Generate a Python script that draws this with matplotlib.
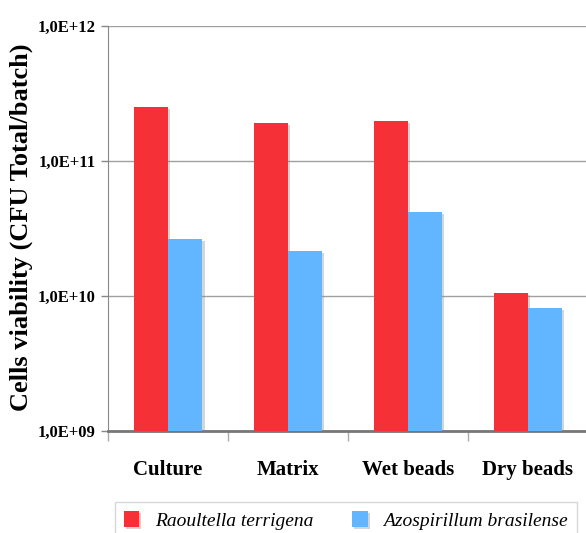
import matplotlib
matplotlib.use('Agg')
import matplotlib.pyplot as plt
import matplotlib.patheffects as pe
import numpy as np

#=====================================================

categories = ['Culture', 'Matrix', 'Wet beads', 'Dry beads']
raoultella = [2.5e11, 1.9e11, 1.97e11, 1.06e10]
azospirillum = [2.66e10, 2.14e10, 4.2e10, 8.2e9]
series_names = ['Raoultella terrigena', 'Azospirillum brasilense']
ytick_values = [1e9, 1e10, 1e11, 1e12]
ytick_labels = ['1,0E+09', '1,0E+10', '1,0E+11', '1,0E+12']

#=====================================================

def main():

    plt.rcParams['font.family'] = ['Liberation Serif', 'DejaVu Serif']

    fig = plt.figure(figsize=(5.86, 5.33), dpi=100)
    ax = fig.add_axes([0.1843, 0.1914, 0.819, 0.7598])

    x = np.arange(len(categories))
    width = 0.287
    shadow = [pe.SimplePatchShadow(offset=(1.5, -1.5), shadow_rgbFace='#888888', alpha=0.35), pe.Normal()]

    ax.set_yscale('log')
    bars1 = ax.bar(x - width / 2, raoultella, width, color='#F53036', label=series_names[0], zorder=3)
    bars2 = ax.bar(x + width / 2, azospirillum, width, color='#62B6FF', label=series_names[1], zorder=3)
    for b in list(bars1) + list(bars2):
        b.set_path_effects(shadow)

    ax.set_ylim(1e9, 1e12)
    ax.set_xlim(-0.5, 3.5)

    ax.set_yticks(ytick_values)
    ax.set_yticklabels(ytick_labels, fontsize=12, fontweight='bold')
    ax.yaxis.set_minor_locator(matplotlib.ticker.NullLocator())
    ax.tick_params(axis='y', length=5, width=1, color='#888888', pad=4)
    ax.yaxis.grid(True, color='#a0a0a0', linewidth=1, zorder=0)
    ax.set_axisbelow(True)

    ax.set_xticks(x)
    ax.set_xticklabels(categories, fontsize=15, fontweight='bold')
    ax.set_xticks(np.arange(-0.5, 3.6, 1.0), minor=True)
    ax.tick_params(axis='x', which='major', length=0, pad=21)
    ax.tick_params(axis='x', which='minor', length=7, width=1, color='#aaaaaa')

    for side in ['top', 'right']:
        ax.spines[side].set_visible(False)
    ax.spines['left'].set_color('#888888')
    ax.spines['bottom'].set_color('#777777')
    ax.spines['bottom'].set_linewidth(2)

    fig.text(0.037, 0.574, 'Cells viability (CFU Total/batch)', rotation=90,
             fontsize=19, fontweight='bold', ha='center', va='center')

    fig.legend(handles=[bars1, bars2], loc='upper center', bbox_to_anchor=(0.59, 0.058),
               ncol=2, prop={'style': 'italic', 'size': 14},
               frameon=True, fancybox=False, edgecolor='#cccccc',
               handlelength=0.8, handleheight=0.9, columnspacing=2.0,
               borderpad=0.45, borderaxespad=0)

    fig.savefig('out.png', dpi=100)

    return

#=====================================================

if __name__ == '__main__':
    main()
